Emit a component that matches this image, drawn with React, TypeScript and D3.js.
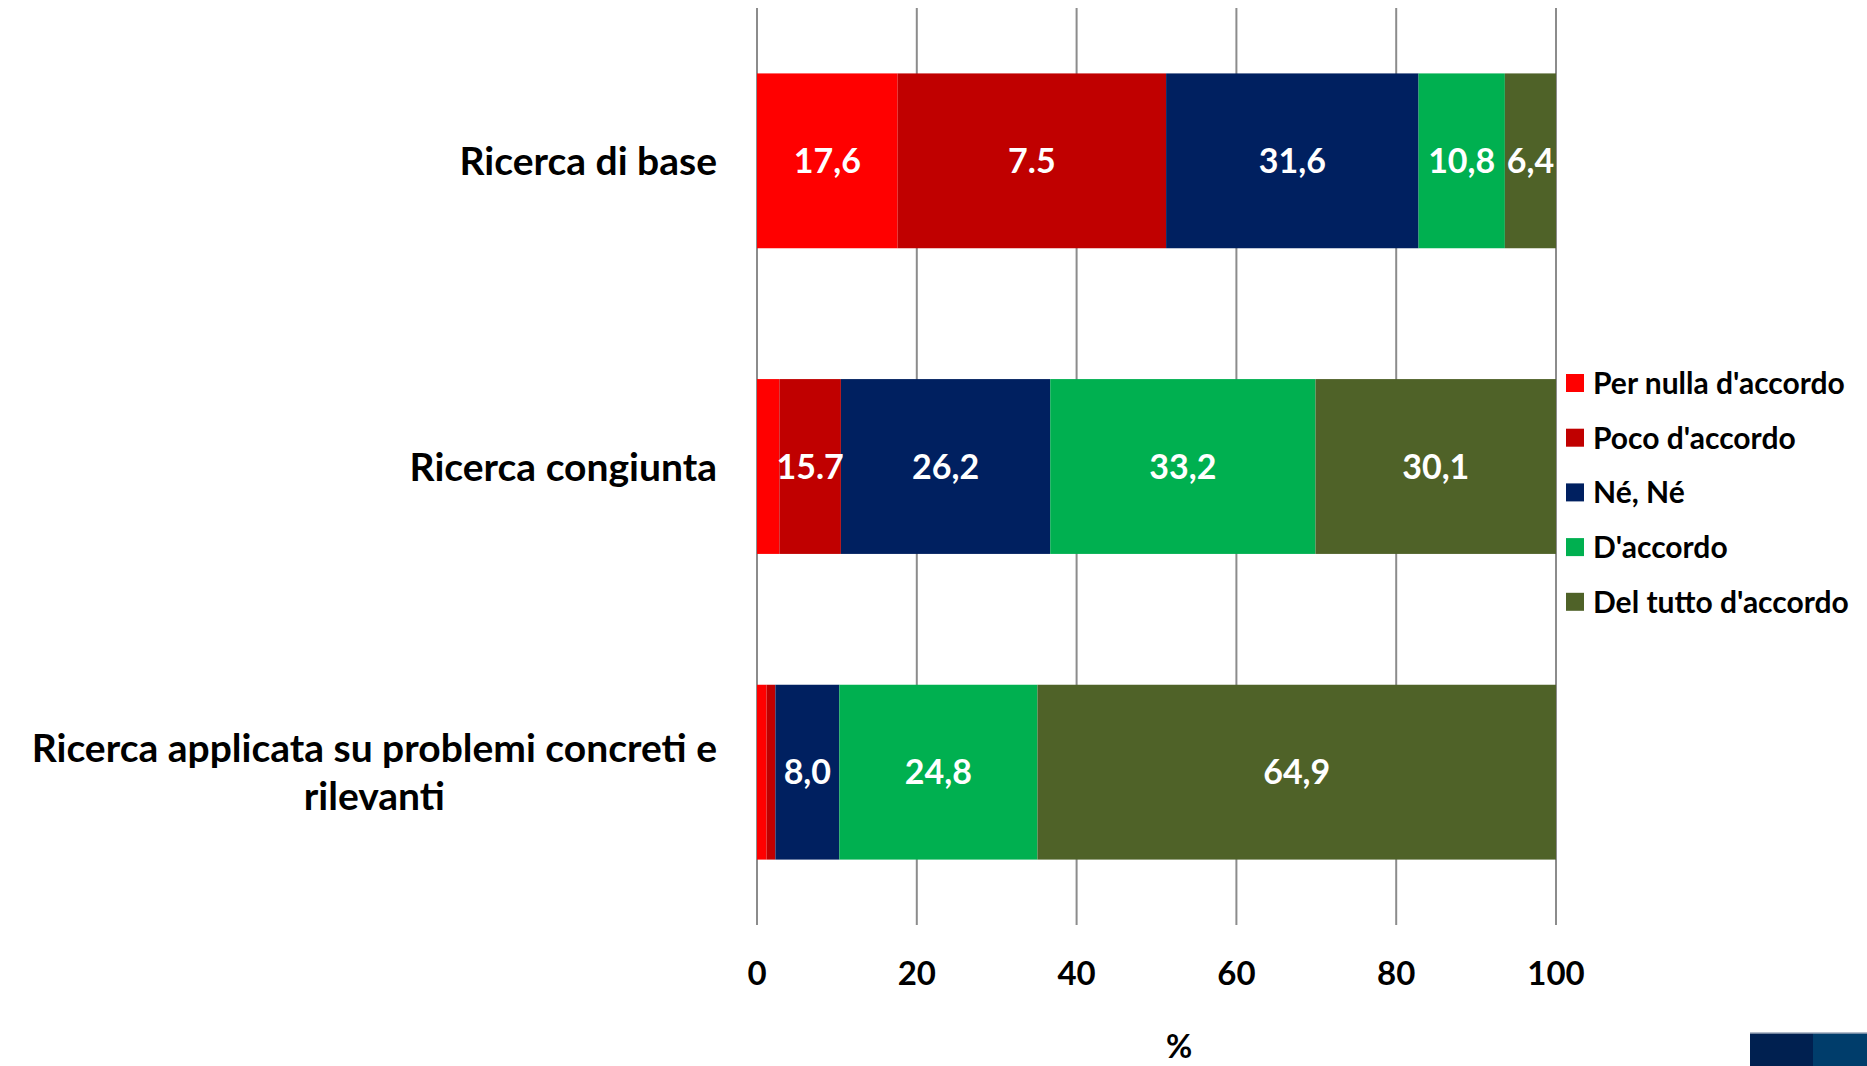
import { useRef, useEffect } from 'react';
import * as d3 from 'd3';

const categories = [
  'Ricerca di base',
  'Ricerca congiunta',
  'Ricerca applicata su problemi concreti e rilevanti',
];
const categoryLines = [
  ['Ricerca di base'],
  ['Ricerca congiunta'],
  ['Ricerca applicata su problemi concreti e', 'rilevanti'],
];

const seriesNames = ["Per nulla d'accordo", "Poco d'accordo", 'Né, Né', "D'accordo", "Del tutto d'accordo"];
const seriesColors = ['#FF0000', '#C00000', '#002060', '#00B050', '#4F6228'];

// values per category (bar widths)
const perNulla = [17.6, 2.8, 1.2];
const poco = [33.6, 7.7, 1.1];
const neNe = [31.6, 26.2, 8.0];
const accordo = [10.8, 33.2, 24.8];
const delTutto = [6.4, 30.1, 64.9];

// printed labels (as they appear in the original)
const labelsPerNulla = ['17,6', '', ''];
const labelsPoco = ['7.5', '15.7', ''];
const labelsNeNe = ['31,6', '26,2', '8,0'];
const labelsAccordo = ['10,8', '33,2', '24,8'];
const labelsDelTutto = ['6,4', '30,1', '64,9'];

const xTicks = [0, 20, 40, 60, 80, 100];

const WIDTH = 1867;
const HEIGHT = 1066;
const FONT = "Lato, 'Open Sans', sans-serif";

export default function App() {
  const svgRef = useRef<SVGSVGElement>(null);

  useEffect(() => {
    const svg = d3.select(svgRef.current);
    svg.selectAll('*').remove();

    const series = [perNulla, poco, neNe, accordo, delTutto];
    const labels = [labelsPerNulla, labelsPoco, labelsNeNe, labelsAccordo, labelsDelTutto];

    const x = d3.scaleLinear().domain([0, 100]).range([757, 1556]);
    const y = d3
      .scaleBand<string>()
      .domain(categories)
      .range([8, 925])
      .paddingInner(0.428)
      .paddingOuter(0.214);

    // gridlines
    svg
      .append('g')
      .selectAll('line')
      .data(xTicks)
      .enter()
      .append('line')
      .attr('x1', (d) => x(d))
      .attr('x2', (d) => x(d))
      .attr('y1', 8)
      .attr('y2', 925)
      .attr('stroke', '#8c8c8c')
      .attr('stroke-width', 2);

    // stacked bars
    const rows = categories.map((c, ci) => {
      let acc = 0;
      return series.map((s, si) => {
        const seg = { cat: c, si, x0: acc, x1: acc + s[ci], label: labels[si][ci] };
        acc += s[ci];
        return seg;
      });
    });
    const segs = rows.flat();

    const bars = svg.append('g');
    bars
      .selectAll('rect')
      .data(segs)
      .enter()
      .append('rect')
      .attr('x', (d) => x(d.x0))
      .attr('y', (d) => y(d.cat)!)
      .attr('width', (d) => x(d.x1) - x(d.x0))
      .attr('height', y.bandwidth())
      .attr('fill', (d) => seriesColors[d.si]);

    bars
      .selectAll('text')
      .data(segs.filter((d) => d.label))
      .enter()
      .append('text')
      .attr('x', (d) => (x(d.x0) + x(d.x1)) / 2)
      .attr('y', (d) => y(d.cat)! + y.bandwidth() / 2)
      .attr('dy', '0.36em')
      .attr('text-anchor', 'middle')
      .attr('fill', 'white')
      .style('font-family', FONT)
      .style('font-weight', 700)
      .style('font-size', '34px')
      .text((d) => d.label);

    // category labels
    const catG = svg.append('g');
    const catSize = '39px';
    categories.forEach((c, ci) => {
      const lines = categoryLines[ci];
      const cy = y(c)! + y.bandwidth() / 2;
      const lh = 48;
      if (lines.length === 1) {
        catG
          .append('text')
          .attr('x', 717)
          .attr('y', cy)
          .attr('dy', '0.36em')
          .attr('text-anchor', 'end')
          .style('font-family', FONT)
          .style('font-weight', 700)
          .style('font-size', catSize)
          .text(lines[0]);
      } else {
        const t = catG
          .append('text')
          .attr('x', 717)
          .attr('y', cy - lh / 2)
          .attr('dy', '0.36em')
          .attr('text-anchor', 'end')
          .style('font-family', FONT)
          .style('font-weight', 700)
          .style('font-size', catSize)
          .text(lines[0]);
        const w = (t.node() as SVGTextElement).getComputedTextLength();
        const mid = 717 - w / 2;
        t.attr('x', mid).attr('text-anchor', 'middle');
        lines.slice(1).forEach((ln, li) => {
          catG
            .append('text')
            .attr('x', mid)
            .attr('y', cy - lh / 2 + lh * (li + 1))
            .attr('dy', '0.36em')
            .attr('text-anchor', 'middle')
            .style('font-family', FONT)
            .style('font-weight', 700)
            .style('font-size', catSize)
            .text(ln);
        });
      }
    });

    // x tick labels
    svg
      .append('g')
      .selectAll('text')
      .data(xTicks)
      .enter()
      .append('text')
      .attr('x', (d) => x(d))
      .attr('y', 973)
      .attr('dy', '0.36em')
      .attr('text-anchor', 'middle')
      .style('font-family', FONT)
      .style('font-weight', 700)
      .style('font-size', '33px')
      .text((d) => d);

    svg
      .append('text')
      .attr('x', 1179)
      .attr('y', 1046)
      .attr('dy', '0.36em')
      .attr('text-anchor', 'middle')
      .style('font-family', FONT)
      .style('font-weight', 700)
      .style('font-size', '32px')
      .text('%');

    // legend
    const legend = svg.append('g');
    const items = legend
      .selectAll('g')
      .data(seriesNames)
      .enter()
      .append('g')
      .attr('transform', (_, i) => `translate(1566,${383 + i * 54.7})`);
    items
      .append('rect')
      .attr('x', 0)
      .attr('y', -9)
      .attr('width', 18)
      .attr('height', 18)
      .attr('fill', (_, i) => seriesColors[i]);
    items
      .append('text')
      .attr('x', 27)
      .attr('y', 0)
      .attr('dy', '0.36em')
      .style('font-family', FONT)
      .style('font-weight', 700)
      .style('font-size', '30px')
      .text((d) => d);

    // corner decoration
    svg.append('rect').attr('x', 1750).attr('y', 1033).attr('width', 63).attr('height', 40).attr('fill', '#002050');
    svg.append('rect').attr('x', 1813).attr('y', 1033).attr('width', 54).attr('height', 40).attr('fill', '#003d6b');
    svg
      .append('line')
      .attr('x1', 1750)
      .attr('x2', 1867)
      .attr('y1', 1033)
      .attr('y2', 1033)
      .attr('stroke', '#9aa6b8')
      .attr('stroke-width', 1.5);
  }, []);

  return (
    <svg
      ref={svgRef}
      width={WIDTH}
      height={HEIGHT}
      style={{ position: 'absolute', left: 0, top: 0, background: 'white' }}
    />
  );
}
